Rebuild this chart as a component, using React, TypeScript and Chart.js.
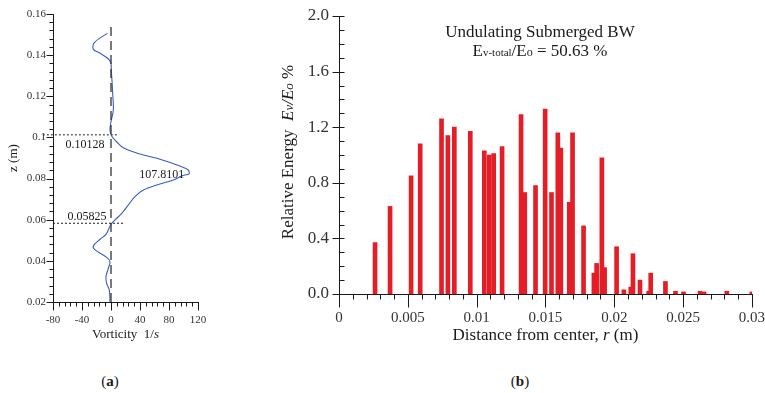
import React, { useEffect, useRef } from "react";
import { Chart, registerables } from "chart.js";

Chart.register(...registerables);

const SERIF = '"Liberation Serif", "Times New Roman", Times, serif';
const INK = "#1a1a1a";

// ---------- Panel (a): vorticity profile ----------
const profileZ = [0.1506, 0.1461, 0.1428, 0.1409, 0.1372, 0.132, 0.1215, 0.1133, 0.1069, 0.1036, 0.1007, 0.0979, 0.095, 0.0919, 0.0894, 0.0861, 0.0842, 0.0832, 0.0822, 0.0813, 0.0793, 0.0769, 0.0744, 0.0712, 0.0672, 0.0631, 0.0599, 0.0578, 0.0529, 0.0505, 0.0472, 0.0453, 0.0417, 0.0396, 0.0364, 0.0323, 0.0291, 0.0258, 0.0201];
const profileVorticity = [-5, -23, -24.4, -15, -1.4, 0.5, 2.3, 3.2, -0.4, -1.4, 0.9, 7.8, 17, 40, 67.6, 95, 106.6, 107.8, 107.6, 97.5, 86, 63, 44.6, 33, 24, 14.8, 5.5, 0, -6.9, -15, -24.4, -22, -6, -1.4, -3.7, -6.9, -6, -2.3, -1.4];
const zeroLineZ = [0.02, 0.155];
const boundaryZ = [0.10128, 0.05825];
const boundaryLabels = ["0.10128", "0.05825"];
const boundaryStartVort = [-94, -80];
const boundaryEndVort = [10, 18];
const boundaryLabelVort = [-36, -33];
const peakLabel = "107.8101";
const peakLabelZ = 0.0832;
const peakLabelVort = 70;
const vortAxis = { min: -80, max: 120, step: 8, major: 40 };
const zAxis = { min: 0.02, max: 0.16, step: 0.004, major: 0.02 };

// ---------- Panel (b): relative energy ----------
const radius = [0.00262, 0.00371, 0.00524, 0.0059, 0.00745, 0.00791, 0.00838, 0.00954, 0.01056, 0.01092, 0.01124, 0.01185, 0.01323, 0.0135, 0.01428, 0.01498, 0.01544, 0.0159, 0.01612, 0.01673, 0.01697, 0.01777, 0.01852, 0.01872, 0.0191, 0.0193, 0.02017, 0.0207, 0.0212, 0.02136, 0.02187, 0.0225, 0.02265, 0.02372, 0.02445, 0.02503, 0.02624, 0.02653, 0.02818, 0.03];
const energy = [0.37, 0.63, 0.85, 1.08, 1.26, 1.14, 1.2, 1.17, 1.03, 1.0, 1.01, 1.06, 1.29, 0.73, 0.78, 1.33, 0.73, 1.16, 1.05, 0.66, 1.16, 0.49, 0.15, 0.22, 0.98, 0.19, 0.34, 0.03, 0.05, 0.29, 0.1, 0.02, 0.15, 0.09, 0.02, 0.015, 0.02, 0.015, 0.02, 0.015];
const rAxis = { min: 0, max: 0.03, step: 0.001, major: 0.005 };
const eAxis = { min: 0, max: 2, step: 0.1, major: 0.4 };
const titleLine1 = "Undulating Submerged BW";
const titleValue = " = 50.63 %";

function isMultiple(v: number, step: number) {
  const q = v / step;
  return Math.abs(q - Math.round(q)) < 1e-6;
}

type Run = { text: string; font: string; dy?: number };
function drawRuns(ctx: CanvasRenderingContext2D, runs: Run[], x: number, y: number) {
  let total = 0;
  for (const r of runs) {
    ctx.font = r.font;
    total += ctx.measureText(r.text).width;
  }
  let cx = x - total / 2;
  ctx.textAlign = "left";
  ctx.textBaseline = "alphabetic";
  for (const r of runs) {
    ctx.font = r.font;
    ctx.fillText(r.text, cx, y + (r.dy || 0));
    cx += ctx.measureText(r.text).width;
  }
}

function makeAxisPlugin(spec: any) {
  return {
    id: "axisFrame",
    afterDatasetsDraw(chart: any) {
      const { ctx, chartArea } = chart;
      const { left, right, top, bottom } = chartArea;
      const xs = chart.scales.x;
      const ys = chart.scales.y;
      const L = Math.round(left) + 0.5;
      const B = Math.round(bottom) + 0.5;
      ctx.save();
      ctx.strokeStyle = INK;
      ctx.lineWidth = 1;
      ctx.beginPath();
      ctx.moveTo(L, Math.round(top));
      ctx.lineTo(L, B);
      ctx.moveTo(L - 3, B);
      ctx.lineTo(Math.round(right) + 1, B);
      for (const t of xs.ticks) {
        const px = Math.round(xs.getPixelForValue(t.value)) + 0.5;
        const len = spec.xMajor(t.value) ? spec.xMajorDown : spec.xMinorDown;
        ctx.moveTo(px, B);
        ctx.lineTo(px, B + len);
      }
      for (const t of ys.ticks) {
        const py = Math.round(ys.getPixelForValue(t.value)) + 0.5;
        const major = spec.yMajor(t.value);
        const out = major ? spec.yMajorOut : spec.yMinorOut;
        const inn = major ? spec.yMajorIn : spec.yMinorIn;
        ctx.moveTo(L - out, py);
        ctx.lineTo(L + inn, py);
      }
      ctx.stroke();
      ctx.restore();
    },
  };
}

function VorticityChart() {
  const ref = useRef<HTMLCanvasElement>(null);
  useEffect(() => {
    const points = profileZ.map((z, i) => ({ x: profileVorticity[i], y: z }));
    const textPlugin = {
      id: "texts",
      afterDraw(chart: any) {
        const { ctx, chartArea } = chart;
        const xs = chart.scales.x;
        const ys = chart.scales.y;
        ctx.save();
        ctx.fillStyle = INK;
        drawRuns(ctx, [{ text: boundaryLabels[0], font: `12px ${SERIF}` }], xs.getPixelForValue(boundaryLabelVort[0]), ys.getPixelForValue(boundaryZ[0]) + 13);
        drawRuns(ctx, [{ text: boundaryLabels[1], font: `12px ${SERIF}` }], xs.getPixelForValue(boundaryLabelVort[1]), ys.getPixelForValue(boundaryZ[1]) - 3);
        drawRuns(ctx, [{ text: peakLabel, font: `12px ${SERIF}` }], xs.getPixelForValue(peakLabelVort), ys.getPixelForValue(peakLabelZ) + 6);
        drawRuns(ctx, [
          { text: "Vorticity  1/", font: `13px ${SERIF}` },
          { text: "s", font: `italic 13px ${SERIF}` },
        ], (chartArea.left + chartArea.right) / 2, 338);
        ctx.translate(13, 158);
        ctx.rotate(-Math.PI / 2);
        drawRuns(ctx, [{ text: "z (m)", font: `13px ${SERIF}` }], 0, 4);
        ctx.restore();
      },
    };
    const chart = new Chart(ref.current!, {
      type: "scatter",
      data: {
        datasets: [
          {
            data: zeroLineZ.map((z) => ({ x: 0, y: z })),
            showLine: true,
            borderColor: "#333",
            borderWidth: 1.3,
            borderDash: [9, 5],
            pointRadius: 0,
          },
          {
            data: [{ x: boundaryStartVort[0], y: boundaryZ[0] }, { x: boundaryEndVort[0], y: boundaryZ[0] }],
            showLine: true,
            borderColor: "#444",
            borderWidth: 1.2,
            borderDash: [2, 2],
            pointRadius: 0,
            clip: false,
          },
          {
            data: [{ x: boundaryStartVort[1], y: boundaryZ[1] }, { x: boundaryEndVort[1], y: boundaryZ[1] }],
            showLine: true,
            borderColor: "#444",
            borderWidth: 1.2,
            borderDash: [2, 2],
            pointRadius: 0,
            clip: false,
          },
          {
            data: points,
            showLine: true,
            borderColor: "#3a5cc0",
            borderWidth: 1.1,
            pointRadius: 0,
            tension: 0.35,
          },
        ],
      } as any,
      options: {
        responsive: false,
        animation: false,
        events: [],
        layout: { padding: { top: 14, right: 32, left: 0, bottom: 0 } },
        plugins: { legend: { display: false }, tooltip: { enabled: false } },
        scales: {
          x: {
            type: "linear",
            min: vortAxis.min,
            max: vortAxis.max,
            grid: { display: false, drawTicks: true, tickLength: 12 },
            border: { display: false },
            afterFit: (s: any) => { s.height = 43; },
            ticks: {
              stepSize: vortAxis.step,
              autoSkip: false,
              maxRotation: 0,
              padding: 0,
              color: "#333",
              font: { family: SERIF, size: 11 },
              callback: (v: any) => (isMultiple(v, vortAxis.major) ? String(Math.round(v)) : ""),
            },
          },
          y: {
            type: "linear",
            min: zAxis.min,
            max: zAxis.max,
            grid: { display: false, drawTicks: true, tickLength: 7 },
            border: { display: false },
            afterFit: (s: any) => { s.width = 53; },
            ticks: {
              stepSize: zAxis.step,
              autoSkip: false,
              padding: 0,
              color: "#333",
              font: { family: SERIF, size: 11 },
              callback: (v: any) => (isMultiple(v, zAxis.major) ? String(parseFloat(Number(v).toFixed(2))) : ""),
            },
          },
        },
      } as any,
      plugins: [
        makeAxisPlugin({
          xMajor: (v: number) => isMultiple(v, vortAxis.major),
          yMajor: (v: number) => isMultiple(v, zAxis.major),
          xMinorDown: 4,
          xMajorDown: 8,
          yMinorOut: 4,
          yMinorIn: 0,
          yMajorOut: 7,
          yMajorIn: 0,
        }),
        textPlugin,
      ],
    });
    return () => chart.destroy();
  }, []);
  return <canvas ref={ref} width={230} height={345} style={{ position: "absolute", left: 0, top: 0, width: 230, height: 345 }} />;
}

function EnergyChart() {
  const ref = useRef<HTMLCanvasElement>(null);
  useEffect(() => {
    const textPlugin = {
      id: "texts",
      afterDraw(chart: any) {
        const { ctx, chartArea } = chart;
        ctx.save();
        ctx.fillStyle = INK;
        drawRuns(ctx, [{ text: titleLine1, font: `17px ${SERIF}` }], 280, 37);
        drawRuns(ctx, [
          { text: "E", font: `17px ${SERIF}` },
          { text: "v-total", font: `11px ${SERIF}` },
          { text: "/E", font: `17px ${SERIF}` },
          { text: "o", font: `12px ${SERIF}` },
          { text: titleValue, font: `17px ${SERIF}` },
        ], 280, 56);
        drawRuns(ctx, [
          { text: "Distance from center, ", font: `17px ${SERIF}` },
          { text: "r", font: `italic 17px ${SERIF}` },
          { text: " (m)", font: `17px ${SERIF}` },
        ], (chartArea.left + chartArea.right) / 2, 340);
        ctx.translate(27, 152);
        ctx.rotate(-Math.PI / 2);
        drawRuns(ctx, [
          { text: "Relative Energy  ", font: `17px ${SERIF}` },
          { text: "E", font: `italic 17px ${SERIF}` },
          { text: "v", font: `italic 13px ${SERIF}` },
          { text: "/E", font: `italic 17px ${SERIF}` },
          { text: "o", font: `italic 13px ${SERIF}` },
          { text: " %", font: `17px ${SERIF}` },
        ], 0, 6);
        ctx.restore();
      },
    };
    const chart = new Chart(ref.current!, {
      type: "bar",
      data: {
        datasets: [
          {
            data: radius.map((r, i) => ({ x: r, y: energy[i] })),
            backgroundColor: "#e41e26",
            borderWidth: 0,
            barThickness: 4,
          },
        ],
      } as any,
      options: {
        responsive: false,
        animation: false,
        events: [],
        layout: { padding: { top: 16, right: 13, left: 0, bottom: 0 } },
        plugins: { legend: { display: false }, tooltip: { enabled: false } },
        scales: {
          x: {
            type: "linear",
            offset: false,
            min: rAxis.min,
            max: rAxis.max,
            grid: { display: false, offset: false, drawTicks: true, tickLength: 15 },
            border: { display: false },
            afterFit: (s: any) => { s.height = 51; },
            ticks: {
              stepSize: rAxis.step,
              autoSkip: false,
              maxRotation: 0,
              padding: 0,
              color: "#333",
              font: { family: SERIF, size: 15 },
              callback: (v: any) => (isMultiple(v, rAxis.major) ? String(parseFloat(Number(v).toFixed(3))) : ""),
            },
          },
          y: {
            type: "linear",
            min: eAxis.min,
            max: eAxis.max,
            grid: { display: false, drawTicks: true, tickLength: 10 },
            border: { display: false },
            afterFit: (s: any) => { s.width = 79; },
            ticks: {
              stepSize: eAxis.step,
              autoSkip: false,
              padding: 0,
              color: "#333",
              font: { family: SERIF, size: 17 },
              callback: (v: any) => (isMultiple(v, eAxis.major) ? Number(v).toFixed(1) : ""),
            },
          },
        },
      } as any,
      plugins: [
        makeAxisPlugin({
          xMajor: (v: number) => isMultiple(v, rAxis.major),
          yMajor: (v: number) => isMultiple(v, eAxis.major),
          xMinorDown: 5,
          xMajorDown: 13,
          yMinorOut: 0,
          yMinorIn: 5,
          yMajorOut: 7,
          yMajorIn: 5,
        }),
        textPlugin,
      ],
    });
    return () => chart.destroy();
  }, []);
  return <canvas ref={ref} width={505} height={345} style={{ position: "absolute", left: 260, top: 0, width: 505, height: 345 }} />;
}

const captionStyle: React.CSSProperties = {
  position: "absolute",
  top: 372,
  width: 40,
  textAlign: "center",
  fontFamily: SERIF,
  fontSize: 15,
  lineHeight: "18px",
  color: INK,
};

export default function App() {
  return (
    <div style={{ position: "absolute", left: 0, top: 0, width: 765, height: 393, background: "#fff", overflow: "hidden" }}>
      <VorticityChart />
      <EnergyChart />
      <div style={{ ...captionStyle, left: 90 }}>(<b>a</b>)</div>
      <div style={{ ...captionStyle, left: 500 }}>(<b>b</b>)</div>
    </div>
  );
}
